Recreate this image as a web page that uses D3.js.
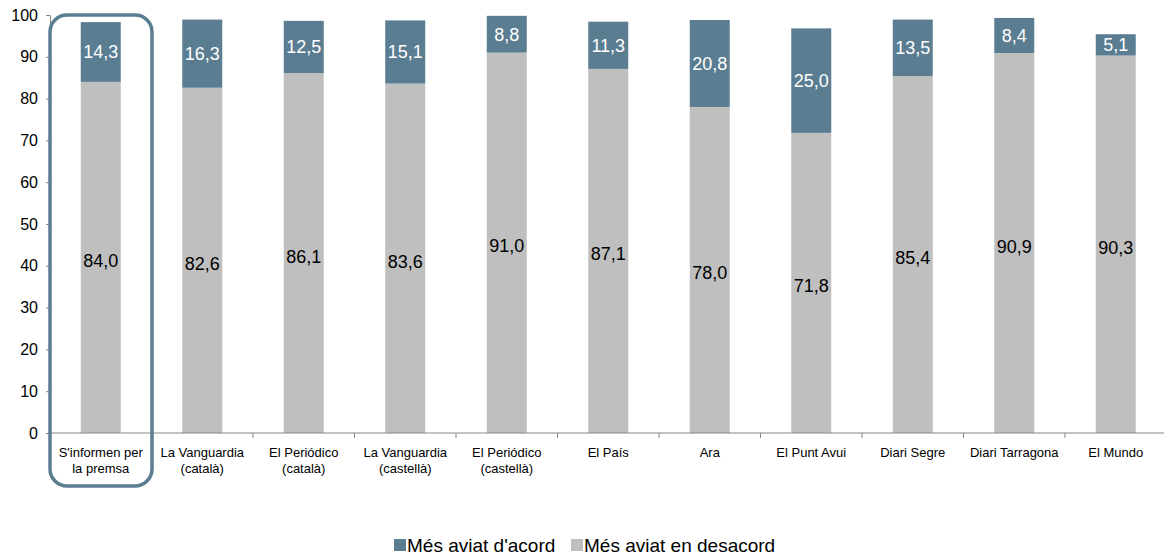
<!DOCTYPE html>
<html><head><meta charset="utf-8">
<script src="https://cdn.jsdelivr.net/npm/d3@7"></script>
<style>body{margin:0;background:#fff}svg{display:block;font-family:"Liberation Sans",Arial,sans-serif}</style>
</head><body><svg id="c" width="1164" height="557"></svg>
<script>
const categories = [["S'informen per","la premsa"],["La Vanguardia","(català)"],["El Periódico","(català)"],["La Vanguardia","(castellà)"],["El Periódico","(castellà)"],["El País"],["Ara"],["El Punt  Avui"],["Diari Segre"],["Diari Tarragona"],["El Mundo"]];
const desacord = [84.0,82.6,86.1,83.6,91.0,87.1,78.0,71.8,85.4,90.9,90.3];
const acord = [14.3,16.3,12.5,15.1,8.8,11.3,20.8,25.0,13.5,8.4,5.1];
const yTicks = [0,10,20,30,40,50,60,70,80,90,100];
const seriesNames = ["Més aviat d'acord","Més aviat en desacord"];
const colors = {acord:"#5B7D91", desacord:"#BFBFBF"};

const svg = d3.select("#c");
const x = d3.scaleBand().domain(d3.range(categories.length)).range([50,1166.5]);
const y = d3.scaleLinear().domain([0,100]).range([433,15]);
const fmt = v => v.toFixed(1).replace(".",",");
const bw = 40;

// y axis
const ya = svg.append("g").attr("transform","translate(50,0)")
  .call(d3.axisLeft(y).tickValues(yTicks).tickSize(4).tickSizeOuter(0).tickPadding(8));
ya.select(".domain").attr("stroke","#868686");
ya.selectAll(".tick line").attr("stroke","#868686");
ya.selectAll("text").attr("font-size",16).attr("fill","#000").attr("font-family","Liberation Sans, Arial, sans-serif");

// bars
const g = svg.append("g");
categories.forEach((c,i)=>{
  const cx = x(i)+x.bandwidth()/2;
  g.append("rect").attr("x",cx-bw/2).attr("width",bw)
   .attr("y",y(desacord[i])).attr("height",y(0)-y(desacord[i])).attr("fill",colors.desacord);
  g.append("rect").attr("x",cx-bw/2).attr("width",bw)
   .attr("y",y(desacord[i]+acord[i])).attr("height",y(desacord[i])-y(desacord[i]+acord[i])).attr("fill",colors.acord);
  g.append("text").attr("x",cx).attr("y",(y(0)+y(desacord[i]))/2+9.5)
   .attr("text-anchor","middle").attr("font-size",18).attr("fill","#000").text(fmt(desacord[i]));
  g.append("text").attr("x",cx).attr("y",(y(desacord[i])+y(desacord[i]+acord[i]))/2+6.5)
   .attr("text-anchor","middle").attr("font-size",18).attr("fill","#fff").text(fmt(acord[i]));
});

// x axis
const xa = svg.append("g").attr("transform","translate(0,433)");
xa.append("line").attr("x1",50).attr("x2",1164).attr("stroke","#868686");
d3.range(categories.length+1).forEach(i=>{
  const px = 50 + i*x.step();
  if(px<=1164) xa.append("line").attr("x1",px).attr("x2",px).attr("y1",0).attr("y2",5).attr("stroke","#868686");
});
categories.forEach((c,i)=>{
  const t = xa.append("text").attr("text-anchor","middle").attr("font-size",13).attr("fill","#000");
  c.forEach((line,j)=>t.append("tspan").attr("x",x(i)+x.bandwidth()/2).attr("y",24+j*16).text(line));
});

// highlight
svg.append("rect").attr("x",50).attr("y",15).attr("width",102).attr("height",471)
  .attr("rx",17).attr("fill","none").attr("stroke",colors.acord).attr("stroke-width",3.5);

// legend
const lg = svg.append("g");
const items = [{n:seriesNames[0],c:colors.acord,x:394},{n:seriesNames[1],c:colors.desacord,x:571}];
items.forEach(it=>{
  lg.append("rect").attr("x",it.x).attr("y",539).attr("width",12).attr("height",12).attr("fill",it.c);
  lg.append("text").attr("x",it.x+13).attr("y",552).attr("font-size",19).attr("fill","#000").text(it.n);
});
</script></body></html>
